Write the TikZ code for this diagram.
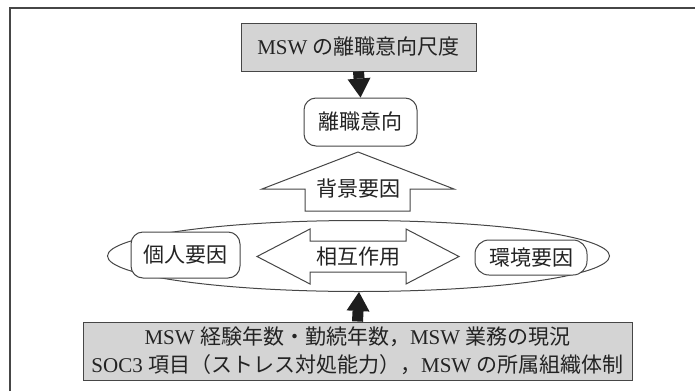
\documentclass[tikz,border=0pt]{standalone}
\usepackage{fontspec}
\setmainfont{Liberation Serif}
\newfontfamily\jp{Noto Sans CJK JP}
\usetikzlibrary{arrows.meta,shapes.geometric}
\definecolor{boxgray}{RGB}{212,212,212}
\definecolor{linegray}{RGB}{70,70,70}
\definecolor{txt}{RGB}{35,35,35}
\definecolor{arrowblack}{RGB}{30,30,30}
\begin{document}
\begin{tikzpicture}[x=1pt,y=-1pt,
  every node/.style={text=txt, font=\fontsize{21}{28}\selectfont, inner sep=0pt},
  graybox/.style={draw=linegray, fill=boxgray, line width=1pt, align=center},
  roundbox/.style={draw=linegray, fill=white, line width=1pt, rounded corners=12pt},
  blockarrow/.style={draw=linegray, fill=white, line width=1pt, line join=miter},
  blackarrow/.style={draw=arrowblack, line width=11pt,
    -{Triangle[width=23pt,length=19pt,line width=0pt]}},
  frameline/.style={draw=linegray, line width=1.5pt}
]
\useasboundingbox (0,0) rectangle (695,391);
\draw[frameline] (10,391) -- (10,8) -- (695,8);

% top
\node[graybox, minimum width=235pt, minimum height=48pt] (scale) at (358.5,47)
  {MSW {\jp の離職意向尺度}};
\node[roundbox, minimum width=113pt, minimum height=48pt] (intent) at (360.5,122)
  {\jp 離職意向};
\draw[blackarrow] (scale.south) -- (intent.north);

% background factor arrow
\coordinate (bgc) at (358,189);
\draw[blockarrow] ([shift={(-53,22)}]bgc) -- ([shift={(-53,0)}]bgc)
  -- ([shift={(-96,0)}]bgc) -- ([shift={(0,-37)}]bgc)
  -- ([shift={(96,0)}]bgc) -- ([shift={(52,0)}]bgc)
  -- ([shift={(52,22)}]bgc) -- cycle;
\node (bg) at (bgc) {\jp 背景要因};

% ellipse group
\node[ellipse, draw=linegray, line width=1pt, minimum width=502pt, minimum height=71pt] (ell) at (358.5,256) {};
\node[roundbox, minimum width=109pt, minimum height=46pt] (indiv) at (185.5,255) {\jp 個人要因};
\node[roundbox, minimum width=112pt, minimum height=35pt, rounded corners=14pt] (env) at (531,257.5) {\jp 環境要因};

\coordinate (mid) at (358,256.5);
\draw[blockarrow] ([shift={(-101,0)}]mid) -- ([shift={(-48,-27.5)}]mid)
  -- ([shift={(-48,-15.5)}]mid) -- ([shift={(48,-15.5)}]mid)
  -- ([shift={(48,-27.5)}]mid) -- ([shift={(101,0)}]mid)
  -- ([shift={(48,27.5)}]mid) -- ([shift={(48,15.5)}]mid)
  -- ([shift={(-48,15.5)}]mid) -- ([shift={(-48,27.5)}]mid) -- cycle;
\node (inter) at (mid) {\jp 相互作用};

% bottom
\node[graybox, minimum width=549pt, minimum height=58pt] (kpi) at (357.5,351)
  {MSW {\jp 経験年数・勤続年数，}MSW {\jp 業務の現況}\\
   SOC3 {\jp 項目（ストレス対処能力），}MSW {\jp の所属組織体制}};
\draw[blackarrow] (kpi.north) -- ([xshift=0.5pt]ell.south);
\end{tikzpicture}
\end{document}
